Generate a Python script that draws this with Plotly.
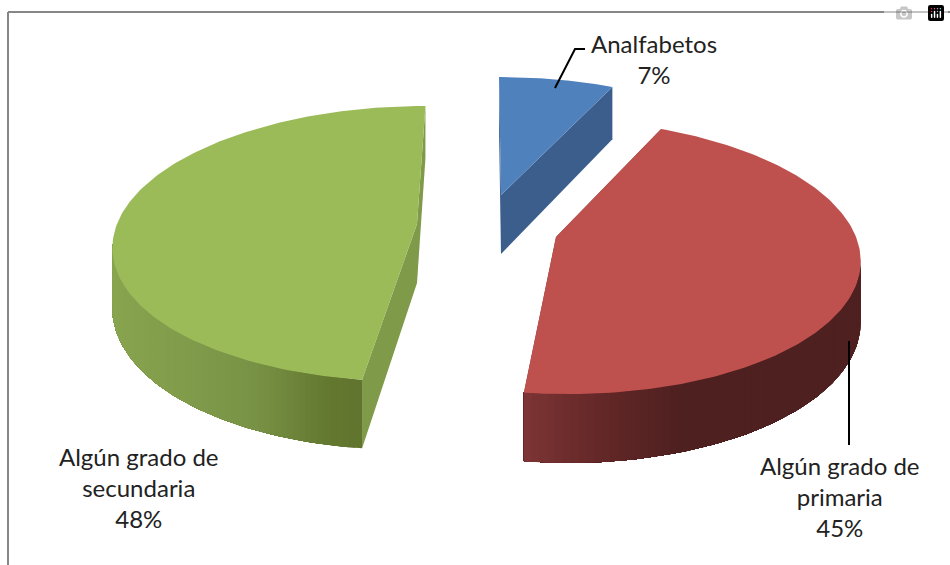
import numpy as np
import plotly.graph_objects as go

categories = ["Analfabetos", "Algún grado de primaria", "Algún grado de secundaria"]
label_lines = ["Analfabetos<br>7%", "Algún grado de<br>primaria<br>45%", "Algún grado de<br>secundaria<br>48%"]
shares = [7, 45, 48]
top_colors = ["#4f81bd", "#be504d", "#9bbb59"]
wall_colors = ["#3b5e8d", "#7a3333", "#7f9a48"]

# where each exploded slice has its tip, and where the label goes
tips = {"Analfabetos": (501, 195), "Algún grado de primaria": (556, 237), "Algún grado de secundaria": (417, 224)}
label_pos = [(654, 59), (840, 496), (139, 487)]

# side shading runs left to right
shade_x = {"Algún grado de primaria": [528, 600, 680, 859],
           "Algún grado de secundaria": [118, 250, 330, 360]}
shade_rgb = {"Algún grado de primaria": [(124, 52, 52), (100, 40, 40), (79, 32, 32), (79, 32, 32)],
             "Algún grado de secundaria": [(136, 164, 79), (122, 148, 71), (100, 120, 48), (98, 117, 47)]}

# fake 3d camera, in pixels
VANISH_X = 485
RX, RY = 300, 134.8
PERSP = 0.142
DEPTH = 59


def project(tip, theta, r=1.0):
    X = r * np.sin(theta)
    Y = r * np.cos(theta)
    w = 1 + PERSP * Y
    return VANISH_X + (tip[0] - VANISH_X + RX * X) / w, tip[1] - RY * Y / w, DEPTH / w


def poly(xs, ys, color, width=0):
    return go.Scatter(x=list(xs), y=list(ys), mode="lines", fill="toself", fillcolor=color,
                      line=dict(color=color, width=width), hoverinfo="skip", showlegend=False)


fig = go.Figure()

start = 0.0
silhouette = np.arccos(-PERSP)
for name, share, top, wall in zip(categories, shares, top_colors, wall_colors):
    end = start + share / 100 * 2 * np.pi
    tip = tips[name]
    th = np.linspace(start, end, 160)
    rx, ry, rd = project(tip, th)

    # flat walls at both cut edges
    for i in [0, -1]:
        fig.add_trace(poly([tip[0], rx[i], rx[i], tip[0]],
                           [tip[1], ry[i], ry[i] + rd[i], tip[1] + DEPTH], wall))

    # outer wall, only the part that faces us. each strip paints everything
    # left of it too so no seams show between the strips
    front = np.linspace(max(start, silhouette), min(end, 2 * np.pi - silhouette), 70)
    if name in shade_x and front[-1] > front[0]:
        fx, fy, fd = project(tip, front)
        for k in range(len(front) - 1):
            mid = (fx[k] + fx[k + 1]) / 2
            rgb = [np.interp(mid, shade_x[name], [c[j] for c in shade_rgb[name]]) for j in range(3)]
            color = "rgb(%d,%d,%d)" % tuple(rgb)
            fig.add_trace(poly([*fx[k:], *fx[k:][::-1]],
                               [*fy[k:], *(fy[k:] + fd[k:])[::-1]], color))

    # top face
    fig.add_trace(poly([tip[0], *rx, tip[0]], [tip[1], *ry, tip[1]], top))
    start = end

# leader lines
fig.add_trace(go.Scatter(x=[555, 575, 585], y=[88, 49, 49], mode="lines",
                         line=dict(color="black", width=2), hoverinfo="skip", showlegend=False))
fig.add_trace(go.Scatter(x=[849, 849], y=[341, 445], mode="lines",
                         line=dict(color="black", width=2), hoverinfo="skip", showlegend=False))

for text, (lx, ly) in zip(label_lines, label_pos):
    fig.add_annotation(x=lx, y=ly, text=text, showarrow=False, align="center",
                       font=dict(family="Lato", size=24, color="#222222"))

fig.add_annotation(x=9, y=6, text="<b>Gráfico 1:  Distribución del nivel de instrucción</b>", showarrow=False,
                   xanchor="left", yanchor="bottom", font=dict(family="Liberation Sans", size=21, color="black"))

# chart frame, open on the right and bottom because the picture is cut there
fig.add_shape(type="line", x0=8, x1=8, y0=12, y1=565, line=dict(color="#868686", width=2))
fig.add_shape(type="line", x0=8, x1=950, y0=12, y1=12, line=dict(color="#868686", width=2))

fig.update_layout(
    width=950, height=565,
    margin=dict(l=0, r=0, t=0, b=0),
    paper_bgcolor="white", plot_bgcolor="white",
    xaxis=dict(range=[0, 950], visible=False, fixedrange=True),
    yaxis=dict(range=[565, 0], visible=False, fixedrange=True),
)

# page default margin would push the chart 8px off
fig.write_html("out.html", post_script="document.body.style.margin='0';document.body.style.overflow='hidden';")
